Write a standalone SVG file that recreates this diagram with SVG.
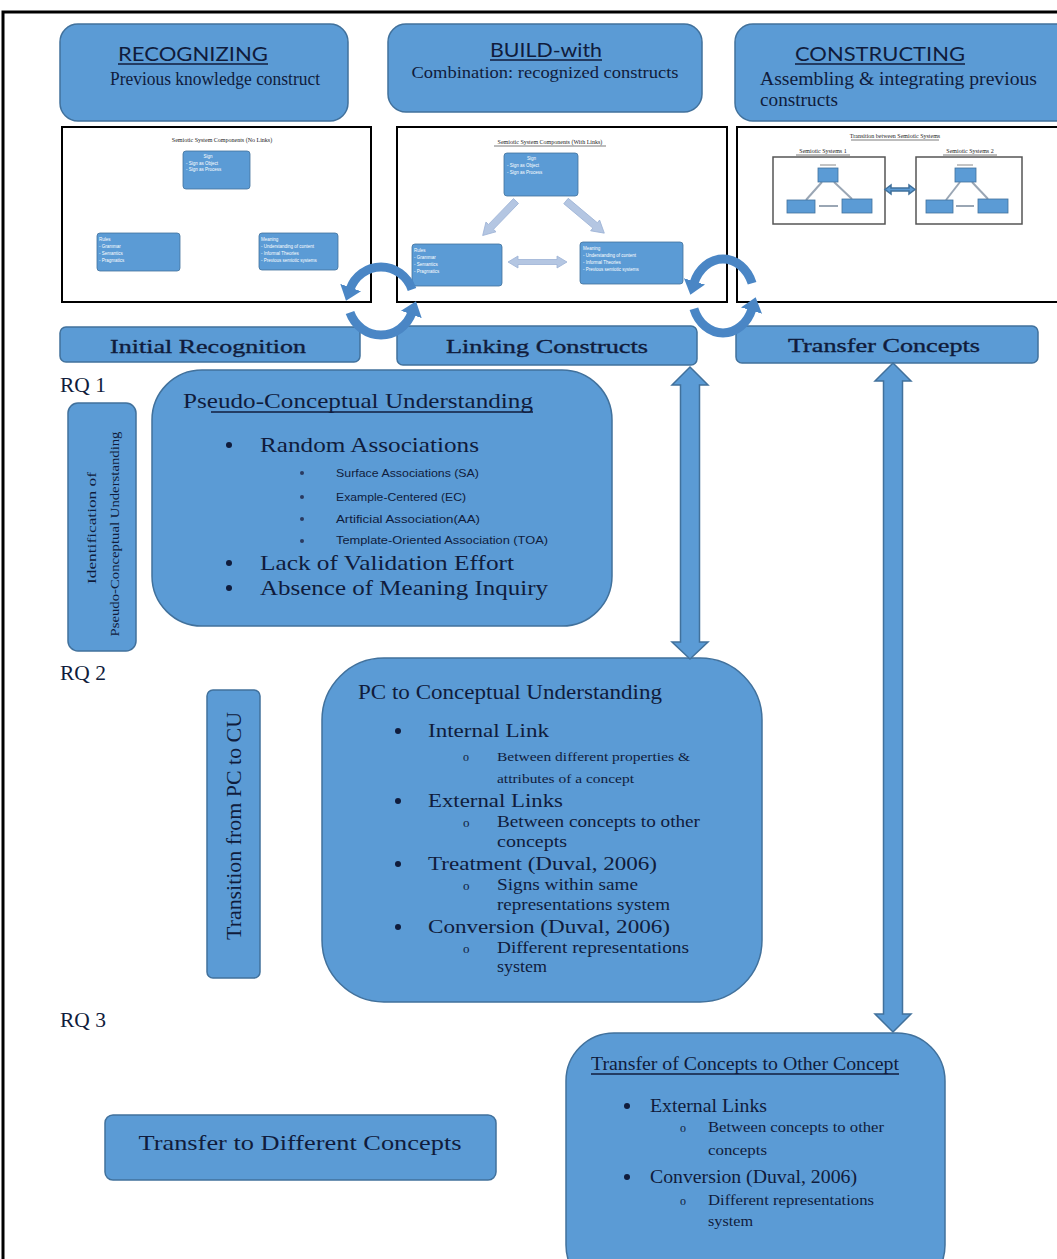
<svg xmlns="http://www.w3.org/2000/svg" width="1057" height="1259" viewBox="0 0 1057 1259">
<defs>
<style>
.box{fill:#5b9bd5;stroke:#41719c;stroke-width:1.5}
.thumb{fill:#fff;stroke:#000;stroke-width:2}
.serif{font-family:"Liberation Serif","Times New Roman",serif;fill:#101c3c}
.sans{font-family:Lato,"Liberation Sans",Arial,sans-serif;fill:#101c3c}
.narrow{font-family:"Liberation Sans",Arial,sans-serif;fill:#101c3c}
.mini{fill:#5b9bd5;stroke:#41719c;stroke-width:0.8}
.tiny{font-family:"Liberation Sans",Arial,sans-serif;font-size:4.5px;fill:#fff}
.cap{font-family:"Liberation Serif","Times New Roman",serif;font-size:6px;fill:#222}
.ul{stroke:#101c3c;stroke-width:1.3}
.ulc{stroke:#222;stroke-width:0.6}
.dbl{fill:#5b9bd5;stroke:#41719c;stroke-width:1.5}
.circ{fill:none;stroke:#4a86c5;stroke-width:9}
.blk{fill:#b4c6e2;stroke:#9db3d6;stroke-width:0.8}
.sys{fill:#fff;stroke:#555;stroke-width:1.5}
.gl{stroke:#9aa6b4;stroke-width:2}
.lvl{font-family:"Liberation Serif","Times New Roman",serif;fill:#101c3c;stroke:#101c3c;stroke-width:0.35}
</style>
<marker id="cah" markerUnits="userSpaceOnUse" markerWidth="22" markerHeight="22" refX="2" refY="11" orient="auto">
<path d="M0,0 L14,11 L0,22 Z" fill="#4a86c5"/>
</marker>
</defs>

<!-- outer frame -->
<rect x="3" y="12" width="1110" height="1300" fill="none" stroke="#000" stroke-width="3"/>

<!-- stage headers -->
<g id="recognizing">
<rect class="box" x="60" y="24" width="288" height="97" rx="18"/>
<text class="sans" x="193" y="61" font-size="20" text-anchor="middle" textLength="150" lengthAdjust="spacingAndGlyphs">RECOGNIZING</text>
<line class="ul" x1="118" y1="64" x2="268" y2="64"/>
<text class="serif" x="215" y="85" font-size="18" text-anchor="middle" textLength="210" lengthAdjust="spacingAndGlyphs">Previous knowledge construct</text>
</g>
<g id="build-with">
<rect class="box" x="388" y="24" width="314" height="88" rx="18"/>
<text class="sans" x="546" y="57" font-size="19" text-anchor="middle" textLength="112" lengthAdjust="spacingAndGlyphs">BUILD-with</text>
<line class="ul" x1="490" y1="60" x2="602" y2="60"/>
<text class="serif" x="545" y="78" font-size="17" text-anchor="middle" textLength="267" lengthAdjust="spacingAndGlyphs">Combination: recognized constructs</text>
</g>
<g id="constructing">
<rect class="box" x="735" y="24" width="340" height="97" rx="18"/>
<text class="sans" x="880" y="61" font-size="20" text-anchor="middle" textLength="170" lengthAdjust="spacingAndGlyphs">CONSTRUCTING</text>
<line class="ul" x1="795" y1="64" x2="965" y2="64"/>
<text class="serif" x="760" y="85" font-size="18" textLength="277" lengthAdjust="spacingAndGlyphs">Assembling &amp; integrating previous</text>
<text class="serif" x="760" y="106" font-size="18" textLength="78" lengthAdjust="spacingAndGlyphs">constructs</text>
</g>

<!-- thumbnail: components without links -->
<g id="thumb-no-links">
<rect class="thumb" x="62" y="127" width="309" height="175"/>
<text class="cap" x="222" y="142" text-anchor="middle">Semiotic System Components (No Links)</text>
<rect class="mini" x="183" y="151" width="67" height="38" rx="3"/>
<text class="tiny" x="208" y="158" text-anchor="middle">Sign</text>
<text class="tiny" x="186" y="165">- Sign as Object</text>
<text class="tiny" x="186" y="171">- Sign as Process</text>
<rect class="mini" x="97" y="233" width="83" height="38" rx="3"/>
<text class="tiny" x="99" y="241">Rules</text>
<text class="tiny" x="99" y="248">- Grammar</text>
<text class="tiny" x="99" y="255">- Semantics</text>
<text class="tiny" x="99" y="262">- Pragmatics</text>
<rect class="mini" x="259" y="233" width="79" height="37" rx="3"/>
<text class="tiny" x="261" y="241">Meaning</text>
<text class="tiny" x="261" y="248">- Understanding of content</text>
<text class="tiny" x="261" y="255">- Informal Theories</text>
<text class="tiny" x="261" y="262">- Previous semiotic systems</text>
</g>

<!-- thumbnail: components with links -->
<g id="thumb-links">
<rect class="thumb" x="397" y="127" width="330" height="175"/>
<text class="cap" x="550" y="144" text-anchor="middle">Semiotic System Components (With Links)</text>
<line class="ulc" x1="494" y1="146" x2="606" y2="146"/>
<rect class="mini" x="504" y="153" width="74" height="43" rx="3"/>
<text class="tiny" x="527" y="160">Sign</text>
<text class="tiny" x="507" y="167">- Sign as Object</text>
<text class="tiny" x="507" y="174">- Sign as Process</text>
<rect class="mini" x="412" y="244" width="90" height="42" rx="3"/>
<text class="tiny" x="414" y="252">Rules</text>
<text class="tiny" x="414" y="259">- Grammar</text>
<text class="tiny" x="414" y="266">- Semantics</text>
<text class="tiny" x="414" y="273">- Pragmatics</text>
<rect class="mini" x="580" y="242" width="103" height="42" rx="3"/>
<text class="tiny" x="583" y="250">Meaning</text>
<text class="tiny" x="583" y="257">- Understanding of content</text>
<text class="tiny" x="583" y="264">- Informal Theories</text>
<text class="tiny" x="583" y="271">- Previous semiotic systems</text>
<!-- block arrows between the components -->
<path class="blk" transform="translate(516,201) rotate(134)" d="M0,-3.5 L36,-3.5 L36,-7 L48,0 L36,7 L36,3.5 L0,3.5 Z"/>
<path class="blk" transform="translate(566,201) rotate(40)" d="M0,-3.5 L38,-3.5 L38,-7 L50,0 L38,7 L38,3.5 L0,3.5 Z"/>
<path class="blk" d="M508,262 L518,256 L518,259.5 L557,259.5 L557,256 L567,262 L557,268 L557,264.5 L518,264.5 L518,268 Z"/>
</g>

<!-- thumbnail: transition between systems -->
<g id="thumb-transition">
<rect class="thumb" x="737" y="127" width="330" height="175"/>
<text class="cap" x="895" y="138" text-anchor="middle">Transition between Semiotic Systems</text>
<line class="ulc" x1="851" y1="140" x2="939" y2="140"/>
<text class="cap" x="823" y="153" text-anchor="middle">Semiotic Systems 1</text>
<line class="ulc" x1="796" y1="155" x2="850" y2="155"/>
<text class="cap" x="970" y="153" text-anchor="middle">Semiotic Systems 2</text>
<line class="ulc" x1="943" y1="155" x2="997" y2="155"/>
<g id="system-1">
<rect class="sys" x="773" y="157" width="112" height="67"/>
<line class="gl" x1="822" y1="182" x2="806" y2="200"/>
<line class="gl" x1="834" y1="182" x2="852" y2="199"/>
<line class="gl" x1="819" y1="206" x2="838" y2="206"/>
<line x1="820" y1="165" x2="836" y2="165" stroke="#888" stroke-width="1"/>
<rect class="mini" x="818" y="168" width="20" height="14"/>
<rect class="mini" x="787" y="200" width="28" height="13"/>
<rect class="mini" x="842" y="199" width="30" height="14"/>
</g>
<g id="system-2">
<rect class="sys" x="916" y="157" width="106" height="67"/>
<line class="gl" x1="960" y1="182" x2="946" y2="200"/>
<line class="gl" x1="972" y1="182" x2="988" y2="199"/>
<line class="gl" x1="956" y1="206" x2="974" y2="206"/>
<line x1="957" y1="165" x2="973" y2="165" stroke="#888" stroke-width="1"/>
<rect class="mini" x="955" y="168" width="21" height="14"/>
<rect class="mini" x="926" y="200" width="27" height="13"/>
<rect class="mini" x="978" y="199" width="30" height="14"/>
</g>
<path class="dbl" stroke-width="0.8" d="M885,189.5 L891,185 L891,188 L909,188 L909,185 L915,189.5 L909,194 L909,191 L891,191 L891,194 Z"/>
</g>

<!-- level labels -->
<g id="initial-recognition">
<rect class="box" x="60" y="327" width="300" height="35" rx="6"/>
<text class="lvl" x="208" y="353" font-size="19" text-anchor="middle" textLength="196" lengthAdjust="spacingAndGlyphs">Initial Recognition</text>
</g>
<g id="linking-constructs">
<rect class="box" x="397" y="326" width="300" height="39" rx="6"/>
<text class="lvl" x="547" y="353" font-size="19" text-anchor="middle" textLength="202" lengthAdjust="spacingAndGlyphs">Linking Constructs</text>
</g>
<g id="transfer-concepts">
<rect class="box" x="736" y="326" width="302" height="37" rx="6"/>
<text class="lvl" x="884" y="352" font-size="19" text-anchor="middle" textLength="192" lengthAdjust="spacingAndGlyphs">Transfer Concepts</text>
</g>

<!-- research question markers -->
<text class="serif" x="60" y="392" font-size="21" textLength="46" lengthAdjust="spacingAndGlyphs">RQ 1</text>
<text class="serif" x="60" y="680" font-size="21" textLength="46" lengthAdjust="spacingAndGlyphs">RQ 2</text>
<text class="serif" x="60" y="1027" font-size="21" textLength="46" lengthAdjust="spacingAndGlyphs">RQ 3</text>

<!-- side captions -->
<g id="identification">
<rect class="box" x="68" y="403" width="68" height="248" rx="10"/>
<text class="serif" transform="translate(96,528) rotate(-90)" font-size="13" text-anchor="middle" textLength="112" lengthAdjust="spacingAndGlyphs">Identification of</text>
<text class="serif" transform="translate(119,534) rotate(-90)" font-size="13" text-anchor="middle" textLength="205" lengthAdjust="spacingAndGlyphs">Pseudo-Conceptual Understanding</text>
</g>
<g id="transition-pc-cu">
<rect class="box" x="207" y="690" width="53" height="288" rx="6"/>
<text class="serif" transform="translate(241,826) rotate(-90)" font-size="20" text-anchor="middle" textLength="228" lengthAdjust="spacingAndGlyphs">Transition from PC to CU</text>
</g>

<!-- pseudo-conceptual understanding -->
<g id="pseudo-conceptual">
<rect class="box" x="152" y="370" width="460" height="256" rx="50"/>
<text class="serif" x="183" y="408" font-size="22" textLength="350" lengthAdjust="spacingAndGlyphs">Pseudo-Conceptual Understanding</text>
<line class="ul" x1="211" y1="412" x2="533" y2="412"/>
<circle cx="229" cy="445" r="3" fill="#101c3c"/>
<text class="serif" x="260" y="452" font-size="22" textLength="219" lengthAdjust="spacingAndGlyphs">Random Associations</text>
<circle cx="302" cy="473" r="2" fill="#2a3a60"/>
<text class="narrow" x="336" y="477" font-size="11.5" textLength="143" lengthAdjust="spacingAndGlyphs">Surface Associations (SA)</text>
<circle cx="302" cy="497" r="2" fill="#2a3a60"/>
<text class="narrow" x="336" y="501" font-size="11.5" textLength="130" lengthAdjust="spacingAndGlyphs">Example-Centered (EC)</text>
<circle cx="302" cy="519" r="2" fill="#2a3a60"/>
<text class="narrow" x="336" y="523" font-size="11.5" textLength="144" lengthAdjust="spacingAndGlyphs">Artificial Association(AA)</text>
<circle cx="302" cy="541" r="2" fill="#2a3a60"/>
<text class="narrow" x="336" y="544" font-size="11.5" textLength="212" lengthAdjust="spacingAndGlyphs">Template-Oriented Association (TOA)</text>
<circle cx="229" cy="563" r="3" fill="#101c3c"/>
<text class="serif" x="260" y="570" font-size="22" textLength="254" lengthAdjust="spacingAndGlyphs">Lack of Validation Effort</text>
<circle cx="229" cy="588" r="3" fill="#101c3c"/>
<text class="serif" x="260" y="595" font-size="22" textLength="288" lengthAdjust="spacingAndGlyphs">Absence of Meaning Inquiry</text>
</g>

<!-- PC to conceptual understanding -->
<g id="pc-to-conceptual">
<rect class="box" x="322" y="658" width="440" height="344" rx="62"/>
<text class="serif" x="358" y="699" font-size="20" textLength="304" lengthAdjust="spacingAndGlyphs">PC to Conceptual Understanding</text>
<circle cx="398" cy="731" r="3" fill="#101c3c"/>
<text class="serif" x="428" y="737" font-size="19" textLength="121" lengthAdjust="spacingAndGlyphs">Internal Link</text>
<text class="serif" x="463" y="761" font-size="12">o</text>
<text class="serif" x="497" y="761" font-size="12.5" textLength="193" lengthAdjust="spacingAndGlyphs">Between different properties &amp;</text>
<text class="serif" x="497" y="783" font-size="12.5" textLength="137" lengthAdjust="spacingAndGlyphs">attributes of a concept</text>
<circle cx="398" cy="801" r="3" fill="#101c3c"/>
<text class="serif" x="428" y="807" font-size="19" textLength="135" lengthAdjust="spacingAndGlyphs">External Links</text>
<text class="serif" x="463" y="827" font-size="13">o</text>
<text class="serif" x="497" y="827" font-size="16" textLength="203" lengthAdjust="spacingAndGlyphs">Between concepts to other</text>
<text class="serif" x="497" y="847" font-size="16" textLength="70" lengthAdjust="spacingAndGlyphs">concepts</text>
<circle cx="398" cy="864" r="3" fill="#101c3c"/>
<text class="serif" x="428" y="870" font-size="19" textLength="229" lengthAdjust="spacingAndGlyphs">Treatment (Duval, 2006)</text>
<text class="serif" x="463" y="890" font-size="13">o</text>
<text class="serif" x="497" y="890" font-size="16" textLength="141" lengthAdjust="spacingAndGlyphs">Signs within same</text>
<text class="serif" x="497" y="910" font-size="16" textLength="173" lengthAdjust="spacingAndGlyphs">representations system</text>
<circle cx="398" cy="927" r="3" fill="#101c3c"/>
<text class="serif" x="428" y="933" font-size="19" textLength="242" lengthAdjust="spacingAndGlyphs">Conversion (Duval, 2006)</text>
<text class="serif" x="463" y="953" font-size="13">o</text>
<text class="serif" x="497" y="953" font-size="16" textLength="192" lengthAdjust="spacingAndGlyphs">Different representations</text>
<text class="serif" x="497" y="972" font-size="16" textLength="50" lengthAdjust="spacingAndGlyphs">system</text>
</g>

<!-- transfer of concepts -->
<g id="transfer-other-concept">
<rect class="box" x="566" y="1033" width="379" height="260" rx="48"/>
<text class="serif" x="591" y="1070" font-size="19" textLength="308" lengthAdjust="spacingAndGlyphs">Transfer of Concepts to Other Concept</text>
<line class="ul" x1="591" y1="1074" x2="899" y2="1074"/>
<circle cx="627" cy="1106" r="3" fill="#101c3c"/>
<text class="serif" x="650" y="1112" font-size="18" textLength="117" lengthAdjust="spacingAndGlyphs">External Links</text>
<text class="serif" x="680" y="1132" font-size="12">o</text>
<text class="serif" x="708" y="1132" font-size="15" textLength="176" lengthAdjust="spacingAndGlyphs">Between concepts to other</text>
<text class="serif" x="708" y="1155" font-size="15" textLength="59" lengthAdjust="spacingAndGlyphs">concepts</text>
<circle cx="627" cy="1177" r="3" fill="#101c3c"/>
<text class="serif" x="650" y="1183" font-size="18" textLength="207" lengthAdjust="spacingAndGlyphs">Conversion (Duval, 2006)</text>
<text class="serif" x="680" y="1205" font-size="12">o</text>
<text class="serif" x="708" y="1205" font-size="15" textLength="166" lengthAdjust="spacingAndGlyphs">Different representations</text>
<text class="serif" x="708" y="1226" font-size="15" textLength="45" lengthAdjust="spacingAndGlyphs">system</text>
</g>

<g id="transfer-different">
<rect class="box" x="105" y="1115" width="391" height="65" rx="8"/>
<text class="serif" x="300" y="1150" font-size="22" text-anchor="middle" textLength="323" lengthAdjust="spacingAndGlyphs">Transfer to Different Concepts</text>
</g>

<!-- connectors -->
<g id="connectors">
<path class="dbl" d="M690,367 L708,385 L699.5,385 L699.5,642 L708,642 L690,659 L672,642 L680.5,642 L680.5,385 L672,385 Z"/>
<path class="dbl" d="M893,363 L911,381 L902.5,381 L902.5,1014 L911,1014 L893,1032 L875,1014 L883.5,1014 L883.5,381 L875,381 Z"/>
<!-- cycle between recognition and linking -->
<path class="circ" d="M412,289.4 A33,34 0 0 0 350,289.4" marker-end="url(#cah)"/>
<path class="circ" d="M350,312.6 A33,34 0 0 0 412,312.6" marker-end="url(#cah)"/>
<!-- cycle between linking and transfer -->
<path class="circ" d="M752.1,283.3 A31,37 0 0 0 693.9,283.3" marker-end="url(#cah)"/>
<path class="circ" d="M693.9,308.7 A31,37 0 0 0 752.1,308.7" marker-end="url(#cah)"/>
</g>
</svg>
